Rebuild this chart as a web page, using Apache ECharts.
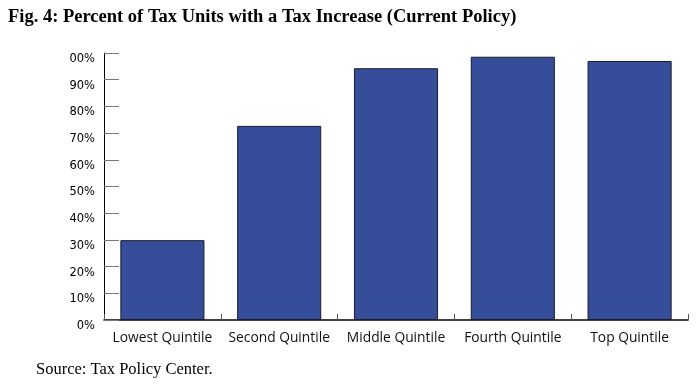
<!DOCTYPE html>
<html>
<head>
<meta charset="utf-8">
<script src="https://cdn.jsdelivr.net/npm/echarts@6/dist/echarts.min.js"></script>
<style>
html,body{margin:0;padding:0;background:#fff;}
#c{width:698px;height:386px;}
</style>
</head>
<body>
<div id="c"></div>
<script>
const categories = ['Lowest Quintile', 'Second Quintile', 'Middle Quintile', 'Fourth Quintile', 'Top Quintile'];
const values = [29.9, 72.7, 94.3, 98.6, 97.0];
const yTickLabels = ['0%', '10%', '20%', '30%', '40%', '50%', '60%', '70%', '80%', '90%', '00%'];
const titleText = 'Fig. 4: Percent of Tax Units with a Tax Increase (Current Policy)';
const sourceText = 'Source: Tax Policy Center.';

const chart = echarts.init(document.getElementById('c'), null, {renderer: 'canvas'});
chart.setOption({
  animation: false,
  backgroundColor: '#fff',
  title: [
    {text: titleText, left: 3, top: 3,
     textStyle: {fontFamily: 'Liberation Serif', fontWeight: 'bold', fontSize: 18.5, color: '#000'}},
    {text: sourceText, left: 31, top: 356,
     textStyle: {fontFamily: 'Liberation Serif', fontWeight: 'normal', fontSize: 16.5, color: '#000'}}
  ],
  grid: {left: 104, right: 10, top: 53, bottom: 66, containLabel: false},
  xAxis: {
    type: 'category',
    data: categories,
    axisLine: {lineStyle: {color: '#000', width: 1.5}},
    axisTick: {show: true, inside: true, length: 6, alignWithLabel: false, lineStyle: {color: '#555'}},
    axisLabel: {interval: 0, fontFamily: 'Open Sans', fontSize: 13.8, color: '#111', margin: 11}
  },
  yAxis: {
    type: 'value',
    min: 0, max: 100, interval: 10,
    axisLine: {show: true, lineStyle: {color: '#000', width: 1}},
    axisTick: {show: true, inside: true, length: 15, lineStyle: {color: '#777'}},
    splitLine: {show: false},
    axisLabel: {fontFamily: 'DejaVu Sans', fontSize: 11.5, color: '#000', margin: 9,
      verticalAlign: 'top',
      formatter: function (v) { return yTickLabels[Math.round(v / 10)]; }}
  },
  series: [{
    type: 'bar',
    data: values,
    barCategoryGap: '28%',
    itemStyle: {color: '#364e99', borderColor: '#1a1a2a', borderWidth: 1}
  }]
});
</script>
</body>
</html>
